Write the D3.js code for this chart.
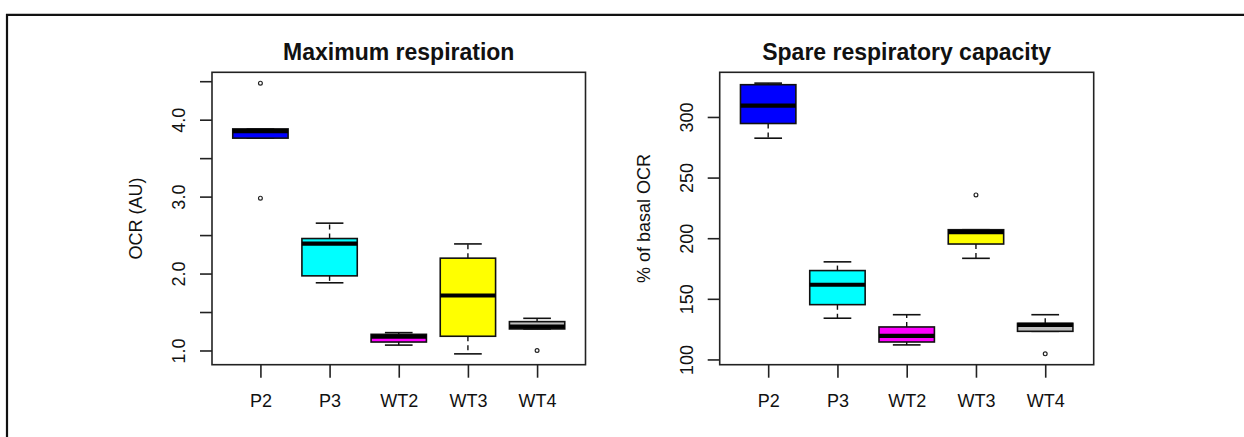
<!DOCTYPE html>
<html>
<head>
<meta charset="utf-8">
<script src="https://cdn.jsdelivr.net/npm/d3@7"></script>
<style>
  html, body { margin: 0; padding: 0; background: #fff; }
  svg { display: block; }
  text { font-family: "Liberation Sans", Arial, sans-serif; fill: #111; }
</style>
</head>
<body>
<svg id="chart" width="1244" height="437"></svg>
<script>
// Groups (same order in both panels)
const groups = ["P2", "P3", "WT2", "WT3", "WT4"];
const boxFills = ["#0000FF", "#00FFFF", "#FF00FF", "#FFFF00", "#BEBEBE"];

// Maximum respiration, OCR (AU): five-number summaries and outliers
const ocrLow    = [3.76, 1.88, 1.07, 0.956, 1.28];
const ocrQ1     = [3.76, 1.97, 1.11, 1.185, 1.28];
const ocrMedian = [3.85, 2.39, 1.18, 1.715, 1.31];
const ocrQ3     = [3.88, 2.455, 1.21, 2.20, 1.375];
const ocrHigh   = [3.88, 2.655, 1.232, 2.385, 1.418];
const ocrOutliers = [[4.475, 2.98], [], [], [], [1.0]];
const ocrTicks = [1.0, 1.5, 2.0, 2.5, 3.0, 3.5, 4.0, 4.5];
const ocrTickLabels = ["1.0", "", "2.0", "", "3.0", "", "4.0", ""];

// Spare respiratory capacity, % of basal OCR
const srcLow    = [282.5, 134.0, 112.0, 183.4, 123.2];
const srcQ1     = [294.6, 145.2, 114.4, 195.2, 123.2];
const srcMedian = [309.4, 161.6, 119.4, 205.0, 128.5];
const srcQ3     = [326.6, 173.3, 126.8, 207.0, 129.8];
const srcHigh   = [327.9, 180.5, 136.9, 207.0, 136.9];
const srcOutliers = [[], [], [], [235.7], [104.6]];
const srcTicks = [100, 150, 200, 250, 300];
const srcTickLabels = ["100", "150", "200", "250", "300"];

const svg = d3.select("#chart");

// figure frame (top and left edges)
svg.append("path")
  .attr("d", "M7,437V14.8H1244")
  .attr("fill", "none")
  .attr("stroke", "#111")
  .attr("stroke-width", 2.2);

function panel(opts) {
  const { left, right, top, bottom, title, ylab,
          low, q1, med, q3, high, outliers, ticks, tickLabels } = opts;

  // y domain: data extent expanded by 4% on each side
  const all = [].concat(low, high, outliers.flat());
  const [mn, mx] = d3.extent(all);
  const pad = (mx - mn) * 0.04;
  const y = d3.scaleLinear().domain([mn - pad, mx + pad]).range([bottom, top]);
  const x = d3.scaleLinear().domain([0.3, 5.7]).range([left, right]);

  const g = svg.append("g");
  const boxW = x(1.8) - x(1);        // 0.8 units wide
  const capW = x(1.4) - x(1);        // staple half of box width

  groups.forEach((name, i) => {
    const cx = x(i + 1);
    const bg = g.append("g");
    // whiskers (dashed)
    bg.append("line").attr("x1", cx).attr("x2", cx)
      .attr("y1", y(q3[i])).attr("y2", y(high[i]))
      .attr("stroke", "#111").attr("stroke-width", 1.4).attr("stroke-dasharray", "5,4");
    bg.append("line").attr("x1", cx).attr("x2", cx)
      .attr("y1", y(q1[i])).attr("y2", y(low[i]))
      .attr("stroke", "#111").attr("stroke-width", 1.4).attr("stroke-dasharray", "5,4");
    // staples
    [high[i], low[i]].forEach(v => {
      bg.append("line").attr("x1", cx - capW / 2).attr("x2", cx + capW / 2)
        .attr("y1", y(v)).attr("y2", y(v))
        .attr("stroke", "#111").attr("stroke-width", 1.6);
    });
    // box
    bg.append("rect")
      .attr("x", cx - boxW / 2).attr("width", boxW)
      .attr("y", y(q3[i])).attr("height", y(q1[i]) - y(q3[i]))
      .attr("fill", boxFills[i]).attr("stroke", "#111").attr("stroke-width", 1.6);
    // median
    bg.append("line").attr("x1", cx - boxW / 2).attr("x2", cx + boxW / 2)
      .attr("y1", y(med[i])).attr("y2", y(med[i]))
      .attr("stroke", "#000").attr("stroke-width", 4.2);
    // outliers
    outliers[i].forEach(v => {
      bg.append("circle").attr("cx", cx).attr("cy", y(v)).attr("r", 1.9)
        .attr("fill", "none").attr("stroke", "#222").attr("stroke-width", 1.2);
    });
  });

  // plot box
  g.append("rect")
    .attr("x", left).attr("y", top)
    .attr("width", right - left).attr("height", bottom - top)
    .attr("fill", "none").attr("stroke", "#222").attr("stroke-width", 1.6);

  // y axis
  const ya = g.append("g").attr("transform", `translate(${left},0)`)
    .call(d3.axisLeft(y).tickValues(ticks).tickSize(12)
      .tickFormat((d, i) => tickLabels[i]));
  ya.select(".domain").remove();
  ya.selectAll(".tick line").attr("stroke", "#222").attr("stroke-width", 1.6);
  ya.selectAll(".tick text")
    .attr("x", 0).attr("dy", 0).attr("y", 0)
    .attr("transform", "translate(-27,0) rotate(-90)")
    .attr("text-anchor", "middle")
    .style("font-size", "18px").style("font-family", "Liberation Sans, Arial, sans-serif")
    .attr("fill", "#111");

  // x axis
  const xa = g.append("g").attr("transform", `translate(0,${bottom})`)
    .call(d3.axisBottom(x).tickValues([1, 2, 3, 4, 5]).tickSize(13)
      .tickFormat(d => groups[d - 1]));
  xa.select(".domain").remove();
  xa.selectAll(".tick line").attr("stroke", "#222").attr("stroke-width", 1.6);
  xa.selectAll(".tick text")
    .attr("y", 42).attr("dy", 0)
    .style("font-size", "18px").style("font-family", "Liberation Sans, Arial, sans-serif")
    .attr("fill", "#111");

  // title
  g.append("text")
    .attr("x", (left + right) / 2).attr("y", 60)
    .attr("text-anchor", "middle")
    .style("font-size", "23px").style("font-weight", "bold")
    .text(title);

  // y label
  g.append("text")
    .attr("transform", `translate(${left - 70},${(top + bottom) / 2}) rotate(-90)`)
    .attr("text-anchor", "middle")
    .style("font-size", "18px")
    .text(ylab);
}

panel({
  left: 212, right: 585.5, top: 72.3, bottom: 364.7,
  title: "Maximum respiration", ylab: "OCR (AU)",
  low: ocrLow, q1: ocrQ1, med: ocrMedian, q3: ocrQ3, high: ocrHigh,
  outliers: ocrOutliers, ticks: ocrTicks, tickLabels: ocrTickLabels
});

panel({
  left: 719.7, right: 1093.7, top: 72.3, bottom: 364.7,
  title: "Spare respiratory capacity", ylab: "% of basal OCR",
  low: srcLow, q1: srcQ1, med: srcMedian, q3: srcQ3, high: srcHigh,
  outliers: srcOutliers, ticks: srcTicks, tickLabels: srcTickLabels
});
</script>
</body>
</html>
